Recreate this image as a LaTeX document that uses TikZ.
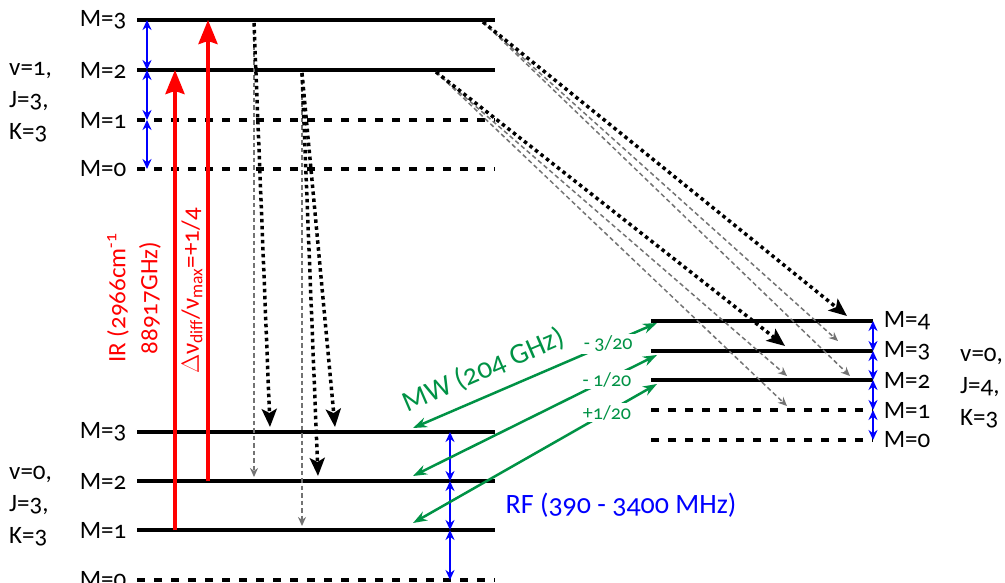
\documentclass[tikz,border=0pt]{standalone}
\usepackage{fontspec}
\setmainfont{Carlito}[Numbers=OldStyle]
\usepackage{tikz}
\usetikzlibrary{arrows.meta, positioning, calc}
\definecolor{rfblue}{RGB}{0,0,255}
\definecolor{irred}{RGB}{255,0,0}
\definecolor{mwgreen}{RGB}{0,146,69}
\definecolor{decaygray}{RGB}{115,115,115}
\tikzset{
  level/.style={line width=3.5pt, color=black},
  dlevel/.style={level, dash pattern=on 8pt off 9pt},
  mlab/.style={font=\fontsize{25}{28}\selectfont, inner sep=1pt},
  qlab/.style={font=\fontsize{25}{32}\selectfont, align=left, inner sep=0pt},
  rfarrow/.style={{Stealth[length=10pt,width=9pt]}-{Stealth[length=10pt,width=9pt]}, line width=2.8pt, color=rfblue},
  irarrow/.style={-{Stealth[length=24pt,width=19pt,inset=3pt]}, line width=3.8pt, color=irred},
  mwarrow/.style={{Stealth[length=14pt,width=10pt]}-{Stealth[length=14pt,width=10pt]}, line width=2.5pt, color=mwgreen},
  mwlab/.style={font=\fontsize{20}{22}\selectfont, color=mwgreen, fill=white, inner sep=2pt},
  decaybig/.style={-{Stealth[length=18pt,width=15pt,inset=4pt]}, line width=3.5pt, dash pattern=on 3.5pt off 3.5pt},
  decaysmall/.style={-{Stealth[length=9pt,width=8pt]}, line width=1.5pt, color=decaygray, dash pattern=on 4.5pt off 3pt}
}

\begin{document}
\begin{tikzpicture}[x=1pt, y=-1pt]
    \useasboundingbox (0,0) rectangle (1005,583);

    % v=1, J=3 levels
    \foreach \m/\y/\s in {3/20/level, 2/70/level, 1/120/dlevel, 0/169/dlevel}
      \draw[\s] (137,\y) coordinate (uL\m) node[mlab, left=8pt] (uM\m) {M=\m} -- (495,\y) coordinate (uR\m);
    \node[qlab, anchor=west] (uq) at (9,102) {v=1,\\J=3,\\K=3};

    % v=0, J=3 levels
    \foreach \m/\y/\s in {3/432/level, 2/481/level, 1/530/level, 0/580/dlevel}
      \draw[\s] (137,\y) coordinate (lL\m) node[mlab, left=8pt] (lM\m) {M=\m} -- (495,\y) coordinate (lR\m);
    \node[qlab, anchor=west] (lq) at (9,506) {v=0,\\J=3,\\K=3};

    % v=0, J=4 levels
    \foreach \m/\y/\s in {4/321/level, 3/351/level, 2/380/level, 1/410/dlevel, 0/440/dlevel}
      \draw[\s] (651,\y) coordinate (rL\m) -- (873,\y) coordinate (rR\m) node[mlab, right=8pt] (rM\m) {M=\m};
    \node[qlab, anchor=west] (rq) at (960,388) {v=0,\\J=4,\\K=3};

    % RF transitions
    \coordinate (rfu) at (147,0);
    \coordinate (rfl) at (450,0);
    \draw[rfarrow] (rfu |- uL3) -- (rfu |- uL2);
    \draw[rfarrow] (rfu |- uL2) -- (rfu |- uL1);
    \draw[rfarrow] (rfu |- uL1) -- (rfu |- uL0);
    \draw[rfarrow] (rfl |- lL3) -- (rfl |- lL2);
    \draw[rfarrow] (rfl |- lL2) -- (rfl |- lL1);
    \draw[rfarrow] (rfl |- lL1) -- (rfl |- lL0);
    \draw[rfarrow] (rR4) -- (rR3);
    \draw[rfarrow] (rR3) -- (rR2);
    \draw[rfarrow] (rR2) -- (rR1);
    \draw[rfarrow] (rR1) -- (rR0);
    \node[font=\fontsize{28}{32}\selectfont, color=rfblue] (rftxt) at (621,505) {RF (390 - 3400 MHz)};

    % IR pump
    \coordinate (ira) at (175,0);
    \coordinate (irb) at (208,0);
    \draw[irarrow] (ira |- lL1) -- (ira |- uL2);
    \draw[irarrow] (irb |- lL2) -- (irb |- uL3);
    \node[font=\fontsize{25}{32}\selectfont, color=irred, rotate=90, align=center] (irtxt) at (134,298)
      {IR (2966cm\textsuperscript{-1}\\88917GHz)};
    \node[font=\fontsize{25}{28}\selectfont, color=irred, rotate=90] (dnu) at (192,291)
      {$\Delta$ν\textsubscript{diff}/ν\textsubscript{max}=+1/4};

    % decay channels
    \coordinate (d3) at (254,23);
    \coordinate (d2) at (302,73);
    \coordinate (e3) at (483,22);
    \coordinate (e2) at (436,72);
    \draw[decaysmall] (d3) -- (254,477);
    \draw[decaybig] (d3) -- (270,427);
    \draw[decaysmall] (d2) -- (302,526);
    \draw[decaybig] (d2) -- (318,476);
    \draw[decaybig] (d2) -- (335,427);
    \draw[decaysmall] (e3) -- (838,341);
    \draw[decaysmall] (e3) -- (850,376);
    \draw[decaybig] (e3) -- (847,316);
    \draw[decaysmall] (e2) -- (787,376);
    \draw[decaysmall] (e2) -- (787,406);
    \draw[decaybig] (e2) -- (785,346);

    % MW transitions
    \coordinate (mw3) at (413,428);
    \coordinate (mw2) at (413,476);
    \coordinate (mw1) at (413,523);
    \coordinate (mw4r) at (657,323);
    \coordinate (mw3r) at (657,355);
    \coordinate (mw2r) at (657,384);
    \draw[mwarrow] (mw3) -- node[pos=0.33, sloped, above=8pt, font=\fontsize{29}{32}\selectfont, color=mwgreen] (mwtxt) {MW (204 GHz)}
      node[pos=0.8, mwlab] (mwa) {- 3/20} (mw4r);
    \draw[mwarrow] (mw2) -- node[pos=0.795, mwlab] (mwb) {- 1/20} (mw3r);
    \draw[mwarrow] (mw1) -- node[pos=0.795, mwlab] (mwc) {+1/20} (mw2r);
  \end{tikzpicture}
\end{document}
